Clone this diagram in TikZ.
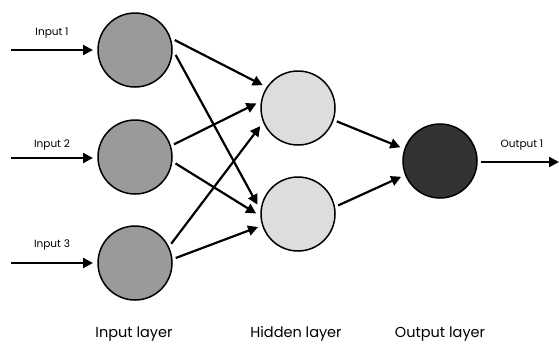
\documentclass[tikz,border=0pt]{standalone}
\usepackage{fontspec}
\setmainfont{Poppins}
\usetikzlibrary{arrows.meta}
\definecolor{ingray}{HTML}{9A9A9A}
\definecolor{hidgray}{HTML}{DDDDDD}
\definecolor{outgray}{HTML}{333333}
\tikzset{
  neuron/.style={circle, draw=black, line width=1.5pt, minimum size=74pt, inner sep=0pt, outer sep=4pt},
  conn/.style={line width=2.2pt, -{Triangle[length=10pt,width=10pt]}, shorten >=1pt},
  smalllbl/.style={font=\fontsize{10.5}{12}\selectfont, inner sep=0pt},
  layerlbl/.style={font=\fontsize{14.5}{16}\selectfont, inner sep=0pt, anchor=base}
}
\begin{document}
\begin{tikzpicture}[x=1pt,y=-1pt]
\useasboundingbox (0,0) rectangle (559,343);
\fill[white] (0,0) rectangle (559,343);
% neurons
\node[neuron, fill=ingray] (i1) at (135,50) {};
\node[neuron, fill=ingray] (i2) at (135,157) {};
\node[neuron, fill=ingray] (i3) at (135,263) {};
\node[neuron, fill=hidgray] (h1) at (298,108) {};
\node[neuron, fill=hidgray] (h2) at (298,214) {};
\node[neuron, fill=outgray] (o1) at (440,161) {};
% free ends
\coordinate (s1) at (11,50);
\coordinate (s2) at (11,158);
\coordinate (s3) at (11,263);
\coordinate (e1) at (559,162);
% input arrows
\draw[conn] (s1) -- (i1);
\draw[conn] (s2) -- (i2.west |- s2);
\draw[conn] (s3) -- (i3);
\draw[conn, shorten >=0pt] (o1.east |- e1) -- (e1);
% input -> hidden
\draw[conn] (i1.14) -- (h1.147);
\draw[conn] (i1.-7) -- (h2.168);
\draw[conn] (i2.18) -- (h1.173);
\draw[conn] (i2.-9) -- (h2.180);
\draw[conn] (i3.28) -- (h1.205);
\draw[conn] (i3.7) -- (h2.198);
% hidden -> output
\draw[conn] (h1.-19) -- (o1.161);
\draw[conn] (h2.12) -- (o1.202);
% labels
\node[smalllbl] (l1) at (52,33) {Input 1};
\node[smalllbl] (l2) at (52,145) {Input 2};
\node[smalllbl] (l3) at (52,245) {Input 3};
\node[smalllbl] (lo) at (522,145) {Output 1};
\node[layerlbl] (L1) at (134,337) {Input layer};
\node[layerlbl] (L2) at (296,337) {Hidden layer};
\node[layerlbl] (L3) at (440,337) {Output layer};
\end{tikzpicture}
\end{document}
